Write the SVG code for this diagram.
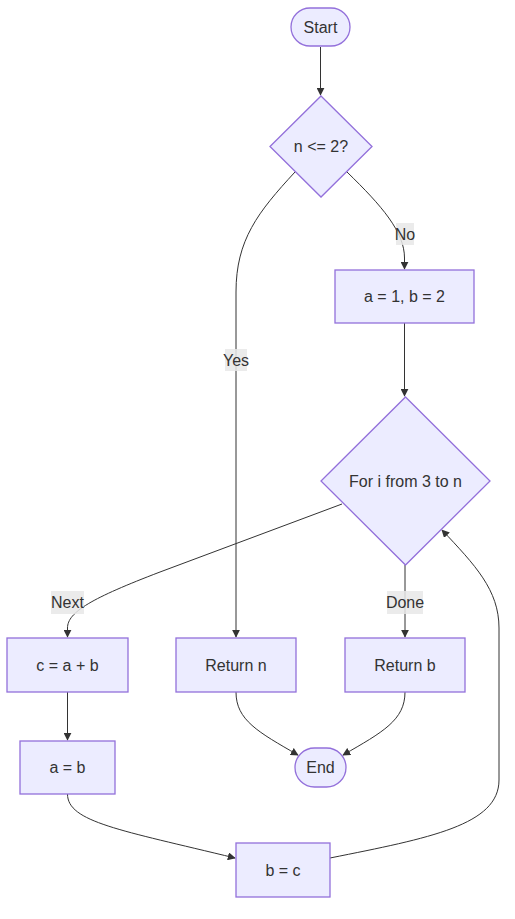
<svg xmlns="http://www.w3.org/2000/svg" width="515" height="919" viewBox="0 0 515 919">
<defs>
<marker id="arrow" viewBox="0 0 10 10" refX="9" refY="5" markerWidth="8" markerHeight="8" markerUnits="userSpaceOnUse" orient="auto">
<path d="M0,0 L10,5 L0,10 z" fill="#333"/>
</marker>
</defs>
<style>
.node{fill:#ECECFF;stroke:#9370DB;stroke-width:1.3}
.lbl{font-family:"Liberation Sans",Arial,sans-serif;font-size:16px;fill:#333;text-anchor:middle;dominant-baseline:central}
.edge{fill:none;stroke:#333;stroke-width:1}
.elbg{fill:#e8e8e8;opacity:0.85}
</style>
<rect width="515" height="919" fill="#fff"/>
<g id="edges">
<path class="edge" d="M320.5,47 L320.5,95" marker-end="url(#arrow)"/>
<path class="edge" d="M295,172 C258,212 236,240 236,292 L236,637" marker-end="url(#arrow)"/>
<path class="edge" d="M347,172 C382,206 404.5,232 404.5,258 L404.5,269" marker-end="url(#arrow)"/>
<path class="edge" d="M404.5,323 L404.5,396" marker-end="url(#arrow)"/>
<path class="edge" d="M342,504 L160,572 C92,598 67.5,612 67.5,628 L67.5,637" marker-end="url(#arrow)"/>
<path class="edge" d="M405,565 L405,637" marker-end="url(#arrow)"/>
<path class="edge" d="M67.5,692 L67.5,740" marker-end="url(#arrow)"/>
<path class="edge" d="M236,692 C236,720 258,732 298,755" marker-end="url(#arrow)"/>
<path class="edge" d="M405,692 C405,720 383,732 343,755" marker-end="url(#arrow)"/>
<path class="edge" d="M67.5,794 C67.5,822 120,830 235,858" marker-end="url(#arrow)"/>
<path class="edge" d="M330,858 C430,838 499,825 499,780 L499,628 C499,590 475,565 442,530" marker-end="url(#arrow)"/>
<g id="edge-labels">
<rect class="elbg" x="396" y="223" width="18" height="22"/>
<text class="lbl" x="405" y="234">No</text>
<rect class="elbg" x="225" y="349" width="22" height="22"/>
<text class="lbl" x="236" y="360">Yes</text>
<rect class="elbg" x="51" y="591" width="33" height="23"/>
<text class="lbl" x="67.5" y="602">Next</text>
<rect class="elbg" x="387" y="591" width="36" height="23"/>
<text class="lbl" x="405" y="602">Done</text>
</g>
</g>
<g id="start">
<rect class="node" x="291" y="8" width="59" height="38" rx="19" ry="19"/>
<text class="lbl" x="320.5" y="27">Start</text>
</g>
<g id="check">
<polygon class="node" points="321,96 372,146.5 321,197 270,146.5"/>
<text class="lbl" x="321" y="146.5">n &lt;= 2?</text>
</g>
<g id="init">
<rect class="node" x="335" y="270" width="139" height="53"/>
<text class="lbl" x="404.5" y="296.5">a = 1, b = 2</text>
</g>
<g id="loop">
<polygon class="node" points="405.5,397 490,481 405.5,565 321,481"/>
<text class="lbl" x="405.5" y="481">For i from 3 to n</text>
</g>
<g id="sum">
<rect class="node" x="7" y="638" width="121" height="54"/>
<text class="lbl" x="67.5" y="665">c = a + b</text>
</g>
<g id="retn">
<rect class="node" x="176" y="638" width="120" height="54"/>
<text class="lbl" x="236" y="665">Return n</text>
</g>
<g id="retb">
<rect class="node" x="345" y="638" width="120" height="54"/>
<text class="lbl" x="405" y="665">Return b</text>
</g>
<g id="ab">
<rect class="node" x="20" y="741" width="95" height="53"/>
<text class="lbl" x="67.5" y="767.5">a = b</text>
</g>
<g id="end">
<rect class="node" x="295" y="748" width="51" height="39" rx="19.5" ry="19.5"/>
<text class="lbl" x="320.5" y="767.5">End</text>
</g>
<g id="bc">
<rect class="node" x="236" y="843" width="94" height="54"/>
<text class="lbl" x="283" y="870">b = c</text>
</g>
</svg>
